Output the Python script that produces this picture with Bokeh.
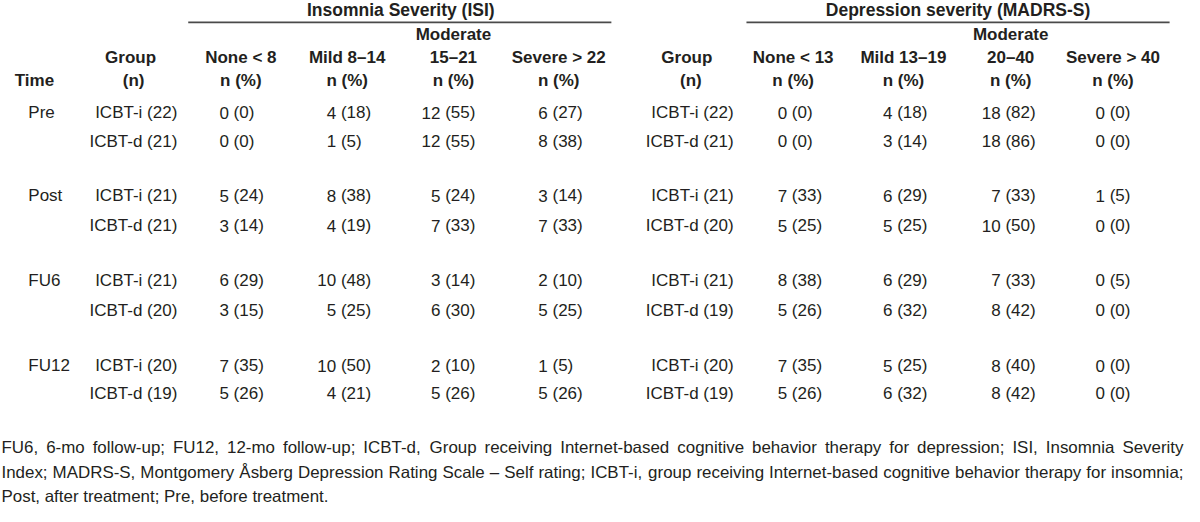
from bokeh.plotting import figure
from bokeh.models import Range1d
from bokeh.core.properties import value
from bokeh.embed import file_html
from bokeh.resources import INLINE

# ---------------- data ----------------
times = ["Pre", "Post", "FU6", "FU12"]

isi_title = "Insomnia Severity (ISI)"
isi_cats = ["None < 8", "Mild 8–14", "15–21", "Severe > 22"]
isi_groups = ["ICBT-i (22)", "ICBT-d (21)", "ICBT-i (21)", "ICBT-d (21)",
              "ICBT-i (21)", "ICBT-d (20)", "ICBT-i (20)", "ICBT-d (19)"]
isi_none_n = [0, 0, 5, 3, 6, 3, 7, 5]
isi_none_pct = [0, 0, 24, 14, 29, 15, 35, 26]
isi_mild_n = [4, 1, 8, 4, 10, 5, 10, 4]
isi_mild_pct = [18, 5, 38, 19, 48, 25, 50, 21]
isi_mod_n = [12, 12, 5, 7, 3, 6, 2, 5]
isi_mod_pct = [55, 55, 24, 33, 14, 30, 10, 26]
isi_sev_n = [6, 8, 3, 7, 2, 5, 1, 5]
isi_sev_pct = [27, 38, 14, 33, 10, 25, 5, 26]

mad_title = "Depression severity (MADRS-S)"
mad_cats = ["None < 13", "Mild 13–19", "20–40", "Severe > 40"]
mad_groups = ["ICBT-i (22)", "ICBT-d (21)", "ICBT-i (21)", "ICBT-d (20)",
              "ICBT-i (21)", "ICBT-d (19)", "ICBT-i (20)", "ICBT-d (19)"]
mad_none_n = [0, 0, 7, 5, 8, 5, 7, 5]
mad_none_pct = [0, 0, 33, 25, 38, 26, 35, 26]
mad_mild_n = [4, 3, 6, 5, 6, 6, 5, 6]
mad_mild_pct = [18, 14, 29, 25, 29, 32, 25, 32]
mad_mod_n = [18, 18, 7, 10, 7, 8, 8, 8]
mad_mod_pct = [82, 86, 33, 50, 33, 42, 40, 42]
mad_sev_n = [0, 0, 1, 0, 0, 0, 0, 0]
mad_sev_pct = [0, 0, 5, 0, 5, 0, 0, 0]

footnote_lines = [
    "FU6, 6-mo follow-up; FU12, 12-mo follow-up; ICBT-d, Group receiving "
    "Internet-based cognitive behavior therapy for depression; ISI, Insomnia Severity",
    "Index; MADRS-S, Montgomery Åsberg Depression Rating Scale – Self rating; "
    "ICBT-i, group receiving Internet-based cognitive behavior therapy for insomnia;",
    "Post, after treatment; Pre, before treatment.",
]

# ---------------- layout ----------------
X0, X1 = 4, 1196
Y0, Y1 = 6, 516
FONT = value("Liberation Sans")
FS = 17
COL = "#231f20"

row_y = [119, 148, 203, 233, 288, 318, 374, 402]
time_y = row_y[0::2]

p = figure(width=1184, height=506, x_range=Range1d(X0, X1), y_range=Range1d(Y1, Y0),
           output_backend="svg", toolbar_location=None, min_border=0,
           x_axis_location=None, y_axis_location=None)
p.grid.visible = False
p.outline_line_color = None
p.background_fill_color = "white"
SX = 1184 / (X1 - X0)


def txt(xs, ys, texts, align="center", bold=False, size=FS):
    p.text(x=list(xs), y=list(ys), text=list(texts), text_font=FONT,
           text_font_size=f"{size}px", text_align=align, text_baseline="middle",
           text_color=COL, text_font_style="bold" if bold else "normal")


# spanning titles and rules
txt([407], [16], [isi_title], bold=True, size=17.5)
txt([968], [16], [mad_title], bold=True, size=17.5)
p.segment(x0=[193, 755], y0=[28, 28], x1=[619, 1181], y1=[28, 28],
          line_color="#4a4a4a", line_width=1.6)

# column headers
txt([58], [87], ["Time"], align="right", bold=True)
for gx, nx in ((135, 138), (695, 699)):
    txt([gx], [63], ["Group"], bold=True)
    txt([nx], [87], ["(n)"], bold=True)

isi_hx = [246, 353, 460, 566]
mad_hx = [802, 913, 1021, 1124]
for cats, hx in ((isi_cats, isi_hx), (mad_cats, mad_hx)):
    txt(hx, [63] * 4, cats, bold=True)
    txt(hx, [87] * 4, ["n (%)"] * 4, bold=True)
    txt([hx[2]], [40], ["Moderate"], bold=True)

# time labels and group labels
txt([32] * len(times), time_y, times, align="left")
txt([182] * 8, row_y, isi_groups, align="right")
txt([742] * 8, row_y, mad_groups, align="right")

# value cells: count right-aligned, percentage left-aligned
cells = [
    (234, isi_none_n, isi_none_pct), (342, isi_mild_n, isi_mild_pct),
    (447, isi_mod_n, isi_mod_pct), (555, isi_sev_n, isi_sev_pct),
    (796, mad_none_n, mad_none_pct), (902, mad_mild_n, mad_mild_pct),
    (1011, mad_mod_n, mad_mod_pct), (1116, mad_sev_n, mad_sev_pct),
]
for ax, ns, pcts in cells:
    txt([ax] * 8, row_y, [str(n) for n in ns], align="right")
    txt([ax + 4.7] * 8, row_y, [f"({v})" for v in pcts], align="left")

# ---------------- footnote (justified, Arial-metric widths) ----------------
AW = {" ": 278, ",": 278, "-": 333, ".": 278, ";": 278, "–": 556, "(": 333, ")": 333}
AW.update({d: 556 for d in "0123456789"})
AW.update(dict(zip("ABCDEFGHIJKLMNOPQRSTUVWXYZ",
                   [667, 667, 722, 722, 667, 611, 778, 722, 278, 500, 667, 556, 833,
                    722, 778, 667, 778, 722, 667, 611, 722, 667, 944, 667, 667, 611])))
AW.update(dict(zip("abcdefghijklmnopqrstuvwxyz",
                   [556, 556, 500, 556, 556, 278, 556, 556, 222, 222, 500, 222, 833,
                    556, 556, 556, 556, 333, 500, 278, 556, 500, 722, 500, 500, 500])))
AW["Å"] = 667


def em_width(s):
    return sum(AW.get(c, 556) for c in s) / 1000.0


left, right = X0 + 1, X1 - 1
avail_px = (right - left) * SX
fs_foot = min(FS, min(avail_px / em_width(l) for l in footnote_lines[:2]) * 0.995)
fy = [457, 482, 506]
for i, line in enumerate(footnote_lines):
    if i < len(footnote_lines) - 1:
        words = line.split(" ")
        wpx = [em_width(w) * fs_foot for w in words]
        gap = (avail_px - sum(wpx)) / (len(words) - 1)
        xs, cur = [], 0.0
        for w in wpx:
            xs.append(left + cur / SX)
            cur += w + gap
        txt(xs, [fy[i]] * len(words), words, align="left", size=round(fs_foot, 2))
    else:
        txt([left], [fy[i]], [line], align="left", size=round(fs_foot, 2))

open("out.html", "w").write(file_html(p, INLINE))
